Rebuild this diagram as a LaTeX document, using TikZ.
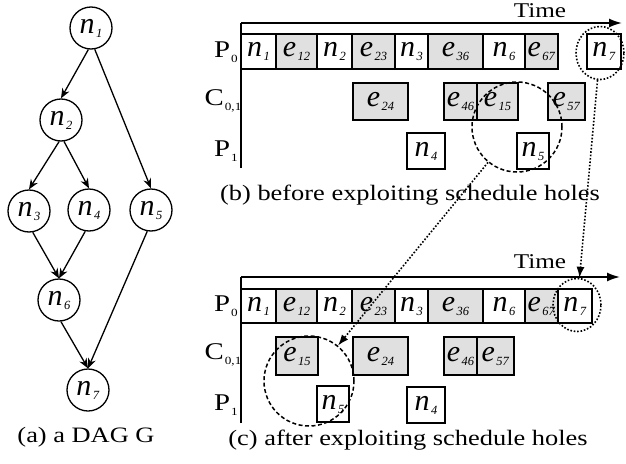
\documentclass[tikz,border=0pt]{standalone}
\usepackage{fontspec}
\setmainfont{Liberation Serif}
\newfontfamily\widefont[FakeStretch=1.2]{Liberation Serif}
\usetikzlibrary{arrows.meta,shapes.geometric}

% italic task/edge label with a small lowered subscript
\newcommand\nl[2]{\textit{#1}\kern1.5pt\raisebox{-4pt}{\fontsize{12.5}{12.5}\selectfont\textit{#2}}}
% upright row label (processor / channel)
\newcommand\pl[2]{#1\kern1pt\raisebox{-4.5pt}{\fontsize{11}{11}\selectfont #2}}
% a schedule slot: style, name, x1, x2, y1, y2, text
\newcommand\slot[7]{\node[#1, minimum width={#4-#3}, minimum height={#6-#5}] (#2) at ({(#3+#4)/2},{(#5+#6)/2}) {#7};}

\begin{document}
\begin{tikzpicture}[x=1pt,y=-1pt,
  every node/.style={font=\fontsize{30}{30}\selectfont},
  vtx/.style={circle, draw, line width=1.3pt, minimum size=42pt, inner sep=0pt},
  dagedge/.style={line width=1.3pt, -{Stealth[length=10pt,width=8pt]}},
  taskbox/.style={draw, line width=1.1pt, fill=white, inner sep=0pt, outer sep=0pt},
  msgbox/.style={taskbox, fill=black!12},
  axisline/.style={line width=1.8pt},
  timeaxis/.style={axisline, -{Latex[length=13pt,width=9pt]}},
  rowlab/.style={font=\widefont\fontsize{24}{24}\selectfont},
  timelab/.style={font=\widefont\fontsize{21}{21}\selectfont},
  caption/.style={font=\widefont\fontsize{22}{22}\selectfont},
  holering/.style={circle, draw, line width=1.5pt, dash pattern=on 4pt off 2.5pt, minimum size=90pt, inner sep=0pt},
  slotring/.style={ellipse, draw, line width=1.6pt, dash pattern=on 1.6pt off 1.8pt, minimum width=48pt, minimum height=53pt, inner sep=0pt},
  moveline/.style={line width=1.6pt, dash pattern=on 1.6pt off 1.8pt, -{Latex[length=11pt,width=8pt]}}
]
\useasboundingbox (0,0) rectangle (626,463);

% ---------------- (a) the task graph ----------------
\node[vtx] (n1) at (91,28)  {\nl{n}{1}};
\node[vtx] (n2) at (61,120) {\nl{n}{2}};
\node[vtx] (n3) at (29,211) {\nl{n}{3}};
\node[vtx] (n4) at (89,210) {\nl{n}{4}};
\node[vtx] (n5) at (151,210) {\nl{n}{5}};
\node[vtx] (n6) at (59,300) {\nl{n}{6}};
\node[vtx] (n7) at (88,390) {\nl{n}{7}};
\draw[dagedge] (n1.-97) -- (n2.north);
\draw[dagedge] (n1.-80) -- (n5.north);
\draw[dagedge] (n2.-95) -- (n3.north);
\draw[dagedge] (n2.-82) -- (n4.north);
\draw[dagedge] (n3.-80) -- (n6.north);
\draw[dagedge] (n4.-100) -- (n6.north);
\draw[dagedge] (n6.-85) -- (n7.north);
\draw[dagedge] (n5.-100) -- (n7.north);
\node[caption] (capa) at (86,437) {(a) a DAG G};

% ---------------- (b) schedule before ----------------
\coordinate (bo) at (241,23);
\coordinate (bbot) at (241,168);
\coordinate (bend) at (622,23);
\draw[axisline] (bbot) -- (bo);
\draw[timeaxis] (bo) -- (bend);
\node[timelab] (btime) at (540,11) {Time};
\node[rowlab] (bp0) at (226,52) {\pl{P}{0}};
\node[rowlab] (bc01) at (223,101) {\pl{C}{0,1}};
\node[rowlab] (bp1) at (226,151) {\pl{P}{1}};

\slot{taskbox}{bn1}{241}{276}{34}{69}{\nl{n}{1}}
\slot{msgbox}{be12}{276}{317}{34}{69}{\nl{e}{12}}
\slot{taskbox}{bn2}{317}{352}{34}{69}{\nl{n}{2}}
\slot{msgbox}{be23}{352}{395}{34}{69}{\nl{e}{23}}
\slot{taskbox}{bn3}{395}{428}{34}{69}{\nl{n}{3}}
\slot{msgbox}{be36}{428}{483}{34}{69}{\nl{e}{36}}
\slot{taskbox}{bn6}{483}{525}{34}{69}{\nl{n}{6}}
\slot{msgbox}{be67}{525}{558}{34}{69}{\nl{e}{67}}
\slot{taskbox}{bn7}{587}{621}{34}{69}{\nl{n}{7}}

\slot{msgbox}{be24}{353}{408}{83}{120}{\nl{e}{24}}
\slot{msgbox}{be46}{444}{477}{83}{120}{\nl{e}{46}}
\slot{msgbox}{be15}{477}{518}{83}{120}{\nl{e}{15}}
\slot{msgbox}{be57}{548}{585}{83}{120}{\nl{e}{57}}

\slot{taskbox}{bn4}{407}{445}{133}{169}{\nl{n}{4}}
\slot{taskbox}{bn5}{517}{549}{133}{169}{\nl{n}{5}}

\node[caption] (capb) at (410,195) {(b) before exploiting schedule holes};

% ---------------- (c) schedule after ----------------
\coordinate (co) at (241,277);
\coordinate (cbot) at (241,423);
\coordinate (cend) at (620,277);
\draw[axisline] (cbot) -- (co);
\draw[timeaxis] (co) -- (cend);
\node[timelab] (ctime) at (540,262) {Time};
\node[rowlab] (cp0) at (226,306) {\pl{P}{0}};
\node[rowlab] (cc01) at (223,355) {\pl{C}{0,1}};
\node[rowlab] (cp1) at (226,405) {\pl{P}{1}};

\slot{taskbox}{cn1}{241}{276}{289}{323}{\nl{n}{1}}
\slot{msgbox}{ce12}{276}{317}{289}{323}{\nl{e}{12}}
\slot{taskbox}{cn2}{317}{352}{289}{323}{\nl{n}{2}}
\slot{msgbox}{ce23}{352}{395}{289}{323}{\nl{e}{23}}
\slot{taskbox}{cn3}{395}{428}{289}{323}{\nl{n}{3}}
\slot{msgbox}{ce36}{428}{483}{289}{323}{\nl{e}{36}}
\slot{taskbox}{cn6}{483}{525}{289}{323}{\nl{n}{6}}
\slot{msgbox}{ce67}{525}{558}{289}{323}{\nl{e}{67}}
\slot{taskbox}{cn7}{558}{592}{289}{323}{\nl{n}{7}}

\slot{msgbox}{ce15}{276}{318}{337}{375}{\nl{e}{15}}
\slot{msgbox}{ce24}{353}{408}{337}{375}{\nl{e}{24}}
\slot{msgbox}{ce46}{444}{477}{337}{375}{\nl{e}{46}}
\slot{msgbox}{ce57}{477}{514}{337}{375}{\nl{e}{57}}

\slot{taskbox}{cn5}{317}{349}{386}{422}{\nl{n}{5}}
\slot{taskbox}{cn4}{407}{445}{387}{423}{\nl{n}{4}}

\node[caption] (capc) at (408,440) {(c) after exploiting schedule holes};

% ---------------- moves between the two schedules ----------------
\node[holering] (bhole) at (517,127) {};
\node[holering] (chole) at (309,381) {};
\node[slotring] (bring) at (600,53) {};
\node[slotring] (cring) at (577,305) {};
\draw[moveline] (bhole) -- (chole);
\draw[moveline] (bring) -- (cring);
\end{tikzpicture}
\end{document}
